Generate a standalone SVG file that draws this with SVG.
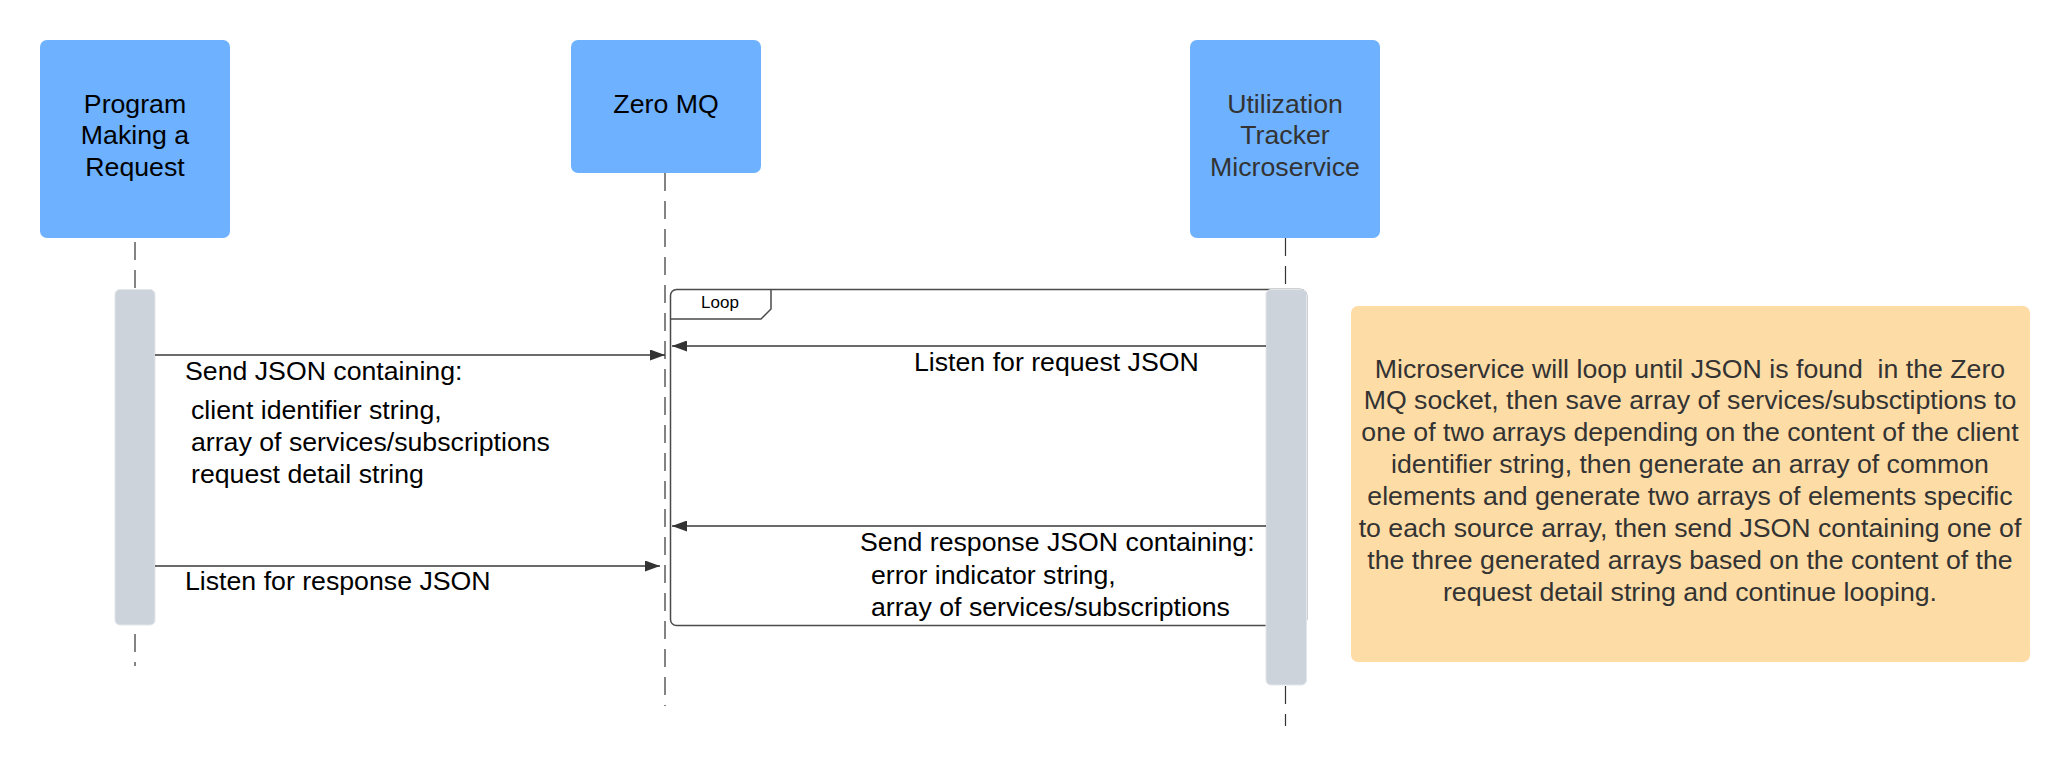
<svg xmlns="http://www.w3.org/2000/svg" width="2071" height="766" viewBox="0 0 2071 766">
<defs>
<style>
.actor{fill:#6DB1FF;}
.act{fill:#CDD3DB;stroke:#E2E5EA;stroke-width:1;}
.life{stroke:#333;stroke-width:1.2;stroke-dasharray:18 10;fill:none;}
.msg{stroke:#3a3a3a;stroke-width:1.5;fill:none;marker-end:url(#arr);}
.frame{fill:none;stroke:#4a4a4a;stroke-width:1.5;}
.t{font-family:"Liberation Sans",Arial,sans-serif;font-size:26.7px;fill:#000;}
.tc{text-anchor:middle;}
.g{fill:#333;}
.note{fill:#FDDCA6;}
</style>
<marker id="arr" markerUnits="userSpaceOnUse" markerWidth="16" markerHeight="11" refX="15" refY="5.5" orient="auto">
<path d="M0,0 L15,5.5 L0,11 Z" fill="#333"/>
</marker>
</defs>
<rect width="2071" height="766" fill="#fff"/>

<g id="lifelines">
<line class="life" x1="135" y1="242" x2="135" y2="666"/>
<line class="life" x1="665" y1="173" x2="665" y2="706"/>
<line class="life" x1="1285.5" y1="238" x2="1285.5" y2="726"/>
</g>

<g id="actor-program">
<rect class="actor" x="40" y="40" width="190" height="198" rx="7"/>
<text class="t tc" x="135" y="112.5">Program</text>
<text class="t tc" x="135" y="144">Making a</text>
<text class="t tc" x="135" y="175.7">Request</text>
</g>

<g id="actor-zeromq">
<rect class="actor" x="571" y="40" width="190" height="133" rx="7"/>
<text class="t tc" x="666" y="112.5">Zero MQ</text>
</g>

<g id="actor-tracker">
<rect class="actor" x="1190" y="40" width="190" height="198" rx="7"/>
<text class="t tc g" x="1285" y="112.5">Utilization</text>
<text class="t tc g" x="1285" y="144">Tracker</text>
<text class="t tc g" x="1285" y="175.7">Microservice</text>
</g>

<g id="loop-frame">
<rect class="frame" x="670.5" y="289.5" width="636" height="336" rx="6"/>
<path class="frame" d="M670.5,319 L761,319 L771,309 L771,289.5"/>
<text x="720" y="308" text-anchor="middle" font-family="'Liberation Sans',Arial,sans-serif" font-size="17" fill="#000">Loop</text>
</g>

<g id="activation-program">
<rect class="act" x="115" y="289.5" width="40" height="335.5" rx="5"/>
</g>

<g id="activation-tracker">
<rect class="act" x="1266" y="289.5" width="40.5" height="395.5" rx="5"/>
</g>

<g id="connectors">
<line class="msg" x1="155" y1="355" x2="665" y2="355"/>
<line class="msg" x1="1266" y1="346" x2="672" y2="346"/>
<line class="msg" x1="1266" y1="526" x2="672" y2="526"/>
<line class="msg" x1="155" y1="566" x2="660" y2="566"/>
</g>

<g id="labels">
<text class="t" x="185" y="379.5">Send JSON containing:</text>
<text class="t" x="191" y="419">client identifier string,</text>
<text class="t" x="191" y="451">array of services/subscriptions</text>
<text class="t" x="191" y="483">request detail string</text>
<text class="t" x="914" y="371">Listen for request JSON</text>
<text class="t" x="860" y="551">Send response JSON containing:</text>
<text class="t" x="871" y="584">error indicator string,</text>
<text class="t" x="871" y="616">array of services/subscriptions</text>
<text class="t" x="185" y="590">Listen for response JSON</text>
</g>

<g id="note">
<rect class="note" x="1351" y="306" width="679" height="356" rx="7"/>
<text class="t tc g" x="1690" y="377.5" style="white-space:pre" xml:space="preserve">Microservice will loop until JSON is found  in the Zero</text>
<text class="t tc g" x="1690" y="409.4">MQ socket, then save array of services/subsctiptions to</text>
<text class="t tc g" x="1690" y="441.3">one of two arrays depending on the content of the client</text>
<text class="t tc g" x="1690" y="473.2">identifier string, then generate an array of common</text>
<text class="t tc g" x="1690" y="505.1">elements and generate two arrays of elements specific</text>
<text class="t tc g" x="1690" y="537">to each source array, then send JSON containing one of</text>
<text class="t tc g" x="1690" y="568.9">the three generated arrays based on the content of the</text>
<text class="t tc g" x="1690" y="600.8">request detail string and continue looping.</text>
</g>
</svg>
